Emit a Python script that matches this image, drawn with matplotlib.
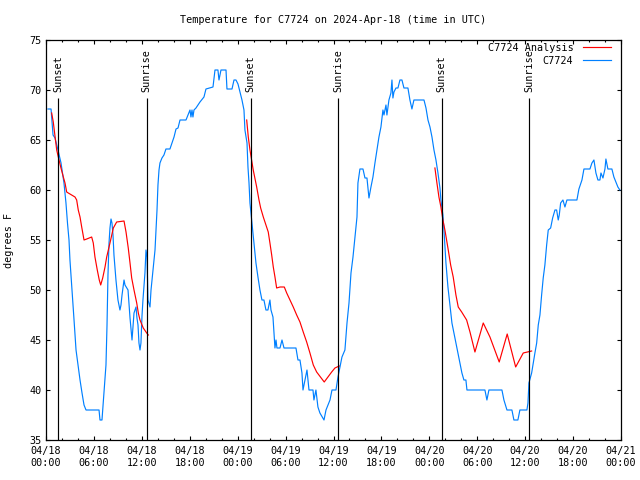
import matplotlib
matplotlib.use("Agg")
import matplotlib.pyplot as plt
import numpy as np

plt.rcParams['font.family'] = ['DejaVu Sans Mono']

# ---- data (hours since 2024-04-18 00:00 UTC) ----
obs_hours = [0.25, 0.63, 0.88, 1.13, 1.50, 1.88, 2.25, 2.50, 2.69, 2.88, 3.00, 3.26, 3.51, 3.76,
             4.01, 4.26, 4.51, 4.76, 5.01, 5.76, 6.64, 6.76, 7.01, 7.26, 7.51, 7.64, 7.76, 7.89,
             8.01, 8.14, 8.26, 8.39, 8.51, 8.76, 9.01, 9.26, 9.39, 9.52, 9.77, 9.89, 10.27, 10.52,
             10.77, 11.02, 11.27, 11.39, 11.52, 11.64, 11.77, 11.89, 12.02, 12.14, 12.39, 12.52,
             12.65, 12.77, 13.02, 13.15, 13.40, 13.65, 13.77, 13.90, 14.02, 14.15, 14.27, 14.52,
             14.77, 15.02, 15.52, 15.78, 16.03, 16.28, 16.53, 16.78, 17.53, 18.03, 18.15, 18.28,
             18.40, 18.53, 18.78, 19.28, 19.78, 20.03, 20.91, 21.16, 21.53, 21.66, 21.91, 22.54,
             22.66, 23.29, 23.54, 23.79, 24.04, 24.29, 24.54, 24.79, 24.91, 25.17, 25.29, 25.42,
             25.54, 25.79, 26.04, 26.29, 26.54, 26.79, 27.04, 27.29, 27.54, 27.79, 28.04, 28.17,
             28.42, 28.55, 28.67, 28.80, 28.92, 29.30, 29.55, 29.80, 31.30, 31.55, 31.80, 32.05,
             32.18, 32.43, 32.68, 32.93, 33.43, 33.55, 33.80, 34.05, 34.30, 34.81, 35.06, 35.56,
             35.81, 36.31, 36.56, 36.81, 37.06, 37.43, 37.69, 37.94, 38.19, 38.44, 38.69, 38.94,
             39.06, 39.31, 39.69, 39.94, 40.19, 40.44, 40.69, 40.94, 41.19, 41.44, 41.69, 41.94,
             42.19, 42.32, 42.57, 42.69, 42.94, 43.19, 43.32, 43.44, 43.57, 43.82, 44.07, 44.32,
             44.57, 44.82, 45.32, 45.57, 45.82, 46.07, 47.33, 47.58, 47.83, 48.08, 48.33, 48.58,
             48.83, 49.08, 49.33, 49.45, 49.70, 49.83, 50.08, 50.33, 50.58, 50.83, 51.08, 51.33,
             51.58, 51.83, 52.08, 52.33, 52.58, 52.71, 54.96, 55.21, 55.46, 57.09, 57.34, 57.72,
             58.34, 58.59, 59.09, 59.34, 60.22, 60.35, 60.47, 60.81, 61.01, 61.22, 61.44, 61.64,
             61.85, 62.06, 62.26, 62.47, 62.69, 62.89, 63.19, 63.44, 63.73, 63.94, 64.14, 64.27,
             64.44, 64.73, 64.98, 65.23, 66.48, 66.73, 67.11, 67.36, 68.11, 68.36, 68.61, 68.86,
             69.11, 69.36, 69.49, 69.74, 69.99, 70.11, 70.36, 70.86, 71.11, 71.36, 71.61, 71.86]
obs_temp = [68.1, 68.1, 65.5, 65.2, 64.0, 62.7, 60.7, 58.7, 56.7, 55.0, 53.0, 50.0, 47.0, 44.0,
            42.5, 41.0, 39.7, 38.5, 38.0, 38.0, 38.0, 37.0, 37.0, 39.7, 42.5, 46.5, 51.5, 54.7,
            56.2, 57.1, 56.7, 55.5, 53.5, 51.0, 49.0, 48.0, 48.5, 49.5, 51.0, 50.5, 50.0, 47.2,
            45.0, 47.7, 48.3, 47.2, 46.5, 44.7, 44.0, 44.7, 47.4, 49.0, 51.7, 54.0,
            53.3, 49.0, 48.3, 50.0, 52.0, 54.0, 56.0, 58.0, 60.5, 62.0, 62.7, 63.2,
            63.5, 64.1, 64.1, 64.7, 65.3, 66.1, 66.2, 67.0, 67.0, 68.0, 67.3, 68.0,
            67.3, 68.0, 68.2, 68.8, 69.3, 70.1, 70.3, 72.0, 72.0, 71.0, 72.0, 72.0,
            70.1, 70.1, 71.0, 71.0, 70.6, 69.8, 69.0, 68.0, 66.0, 64.7, 62.3, 60.7,
            58.7, 56.7, 54.7, 52.7, 51.3, 50.0, 49.0, 49.0, 48.0, 48.0, 49.0, 48.0,
            47.3, 45.7, 44.2, 45.0, 44.2, 44.2, 45.0, 44.2, 44.2, 43.0, 43.0, 41.7,
            40.0, 41.0, 42.0, 40.0, 40.0, 39.0, 40.0, 38.3, 37.7, 37.0, 38.0, 39.0,
            40.0, 40.0, 41.3, 42.3, 43.3, 44.0, 46.7, 48.7, 51.7, 53.3, 55.3, 57.3,
            60.7, 62.1, 62.1, 61.2, 61.2, 59.2, 60.3, 61.3, 62.7, 64.0, 65.3, 66.3,
            68.0, 67.5, 68.5, 67.5, 69.0, 69.7, 71.0, 69.2, 69.8, 70.2, 70.2, 71.0,
            71.0, 70.2, 70.2, 69.0, 68.1, 69.0, 69.0, 68.2, 67.0, 66.3, 65.3, 64.0,
            63.0, 61.7, 60.2, 59.0, 57.5, 56.0, 52.7, 50.3, 48.5, 46.7, 45.7, 44.7,
            43.7, 42.7, 41.7, 41.0, 41.0, 40.0, 40.0, 39.0, 40.0, 40.0, 39.0, 38.0,
            38.0, 37.0, 37.0, 38.0, 38.0, 38.7, 40.7, 41.7, 42.7, 43.7, 44.7, 46.5,
            47.5, 49.5, 51.2, 52.5, 54.5, 56.0, 56.2, 57.2, 58.0, 58.0, 57.0, 57.5,
            58.7, 59.0, 58.3, 59.0, 59.0, 60.1, 61.0, 62.1, 62.1, 62.7, 63.0, 61.7,
            61.0, 61.0, 61.7, 61.2, 62.1, 63.1, 62.1, 62.1, 61.3, 60.8, 60.3, 60.0]

ana1_hours = [0.71, 0.91, 1.34, 1.54, 1.84, 2.17, 2.38, 2.59, 2.79, 3.63, 3.84, 4.04, 4.26, 4.47,
              4.76, 5.10, 5.72, 5.92, 6.13, 6.42, 6.67, 6.85, 7.10, 7.39, 7.60, 8.01, 8.43, 8.85,
              9.77, 10.02, 10.30, 10.52, 10.73, 11.02, 11.36, 11.56, 11.77, 12.18, 12.61, 12.81]
ana1_temp = [67.7, 66.8, 64.0, 63.3, 62.3, 61.3, 60.7, 59.8, 59.7, 59.3, 59.0, 58.0, 57.3, 56.3,
             55.0, 55.1, 55.3, 54.7, 53.3, 52.0, 51.0, 50.5, 51.2, 52.3, 53.3, 54.7, 56.2, 56.8,
             56.9, 55.8, 54.2, 52.7, 51.2, 50.0, 48.7, 47.7, 47.0, 46.2, 45.7, 45.5]
ana2_hours = [25.13, 25.33, 25.54, 25.95, 26.38, 26.67, 26.88, 27.21, 27.54, 27.83, 28.04, 28.26,
              28.46, 28.67, 28.88, 29.30, 29.84, 30.14, 30.55, 30.96, 31.39, 31.80, 32.21, 32.64,
              33.05, 33.47, 33.89, 34.84, 35.77, 36.18, 36.72]
ana2_temp = [67.0, 65.3, 64.0, 62.0, 60.3, 59.0, 58.2, 57.3, 56.5, 55.8, 54.7, 53.5,
             52.3, 51.3, 50.2, 50.3, 50.3, 49.7, 49.0, 48.3, 47.5, 46.8, 45.8, 44.8,
             43.7, 42.5, 41.8, 40.8, 41.8, 42.2, 42.4]
ana3_hours = [48.70, 48.95, 49.20, 49.45, 49.70, 49.95, 50.37, 50.67, 50.99, 51.33, 51.62, 52.05,
              52.67, 53.09, 53.71, 54.75, 55.59, 56.75, 57.75, 58.81, 59.76, 60.81]
ana3_temp = [62.2, 60.7, 59.3, 58.3, 57.0, 56.0, 54.0, 52.5, 51.3, 49.5, 48.3, 47.8,
             47.0, 45.8, 43.8, 46.7, 45.3, 42.8, 45.6, 42.3, 43.7, 43.9]

sun_hours = [1.54, 12.61, 25.63, 36.60, 49.55, 60.52]
sun_labels = ["Sunset", "Sunrise", "Sunset", "Sunrise", "Sunset", "Sunrise"]
sun_line_top = 69.2
sun_label_base = 69.8

xtick_hours = [0, 6, 12, 18, 24, 30, 36, 42, 48, 54, 60, 66, 72]
xtick_labels = ["04/18\n00:00", "04/18\n06:00", "04/18\n12:00", "04/18\n18:00",
                "04/19\n00:00", "04/19\n06:00", "04/19\n12:00", "04/19\n18:00",
                "04/20\n00:00", "04/20\n06:00", "04/20\n12:00", "04/20\n18:00",
                "04/21\n00:00"]
ytick_vals = [35, 40, 45, 50, 55, 60, 65, 70, 75]

RED = "#ff0000"
BLUE = "#0080ff"
FS = 7.3
LW = 0.85

fig = plt.figure(figsize=(6.4, 4.8), dpi=100)
ax = fig.add_axes([46 / 640, 1 - 440 / 480, 575 / 640, 400 / 480])

ax.plot(ana1_hours, ana1_temp, color=RED, lw=LW, label="C7724 Analysis", zorder=3)
ax.plot(ana2_hours, ana2_temp, color=RED, lw=LW, zorder=3)
ax.plot(ana3_hours, ana3_temp, color=RED, lw=LW, zorder=3)
ax.plot(obs_hours, obs_temp, color=BLUE, lw=LW, label="C7724", zorder=2)

for h, lab in zip(sun_hours, sun_labels):
    ax.vlines(h, 35, sun_line_top, color="black", lw=LW, zorder=4)
    ax.text(h, sun_label_base, lab, rotation=90, ha="center", va="bottom",
            fontsize=FS, zorder=5)

ax.set_xlim(0, 72)
ax.set_ylim(35, 75)
ax.set_xticks(xtick_hours)
ax.set_xticklabels(xtick_labels, fontsize=FS, linespacing=1.35)
ax.set_xticks(np.arange(0, 73, 2), minor=True)
ax.set_yticks(ytick_vals)
ax.set_yticklabels([str(v) for v in ytick_vals], fontsize=FS)
ax.tick_params(which="both", direction="in", top=True, right=True, width=0.8)
ax.tick_params(which="major", length=3)
ax.tick_params(which="minor", length=1.5)
ax.tick_params(axis="x", pad=4)
ax.tick_params(axis="y", pad=3)
for s in ax.spines.values():
    s.set_linewidth(0.9)

ax.set_title("Temperature for C7724 on 2024-Apr-18 (time in UTC)", fontsize=FS, pad=12)
ax.set_ylabel("degrees F", fontsize=FS)
ax.yaxis.set_label_coords(-0.056, 0.5)

ax.legend(loc="upper right", bbox_to_anchor=(611 / 640, 1 - 43 / 480),
          bbox_transform=fig.transFigure, frameon=False, markerfirst=False,
          fontsize=FS, handlelength=2.8, handletextpad=0.9, labelspacing=0.25,
          borderpad=0, borderaxespad=0)

fig.savefig("out.png", dpi=100)
